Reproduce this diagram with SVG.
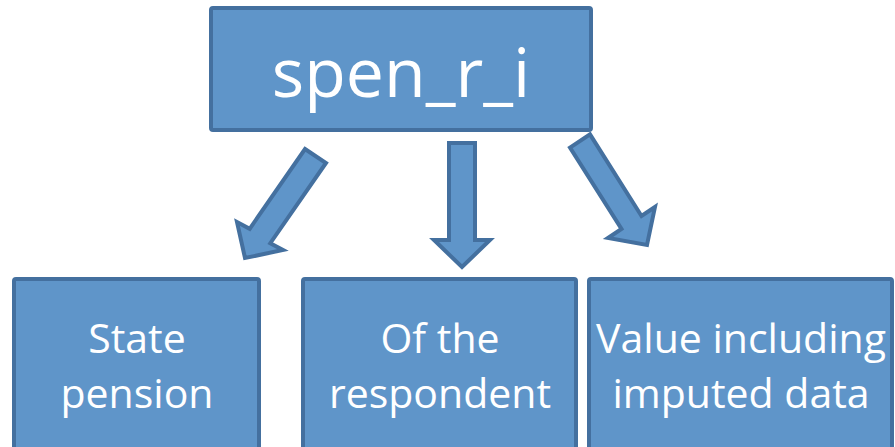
<svg xmlns="http://www.w3.org/2000/svg" width="895" height="447" viewBox="0 0 895 447">
  <style>
    .box { fill: #5f95c9; stroke: #44709f; stroke-width: 4; }
    .arrow { fill: #5f95c9; stroke: #44709f; stroke-width: 4; stroke-linejoin: miter; }
    .t { fill: #ffffff; font-family: "Open Sans", "Noto Sans", "Liberation Sans", sans-serif; text-anchor: middle; }
    .big { font-size: 68px; }
    .small { font-size: 41px; }
  </style>
  <rect width="895" height="447" fill="#ffffff"/>
  <g id="connectors">
    <polygon class="arrow" points="305,149 326,163 270.3,243.2 283,250 245,258 237,222 249.7,228.8"/>
    <polygon class="arrow" points="449,143 475,143 475,240 490,240 462,267 434,240 449,240"/>
    <polygon class="arrow" points="570,147.6 590,134.4 641.5,216 655,207 647,245 608,238 621.5,229"/>
  </g>
  <g id="node-top">
    <rect class="box" x="211" y="8" width="380" height="122" rx="2"/>
    <text class="t big" x="401" y="97">spen_r_i</text>
  </g>
  <g id="node-state-pension">
    <rect class="box" x="14" y="279" width="245" height="172" rx="2"/>
    <text class="t small" x="137" y="353">State</text>
    <text class="t small" x="137" y="408">pension</text>
  </g>
  <g id="node-respondent">
    <rect class="box" x="303" y="279" width="273" height="172" rx="2"/>
    <text class="t small" x="440" y="353">Of the</text>
    <text class="t small" x="440" y="408">respondent</text>
  </g>
  <g id="node-imputed">
    <rect class="box" x="589" y="279" width="303" height="172" rx="2"/>
    <text class="t small" x="741" y="353">Value including</text>
    <text class="t small" x="741" y="408">imputed data</text>
  </g>
</svg>
